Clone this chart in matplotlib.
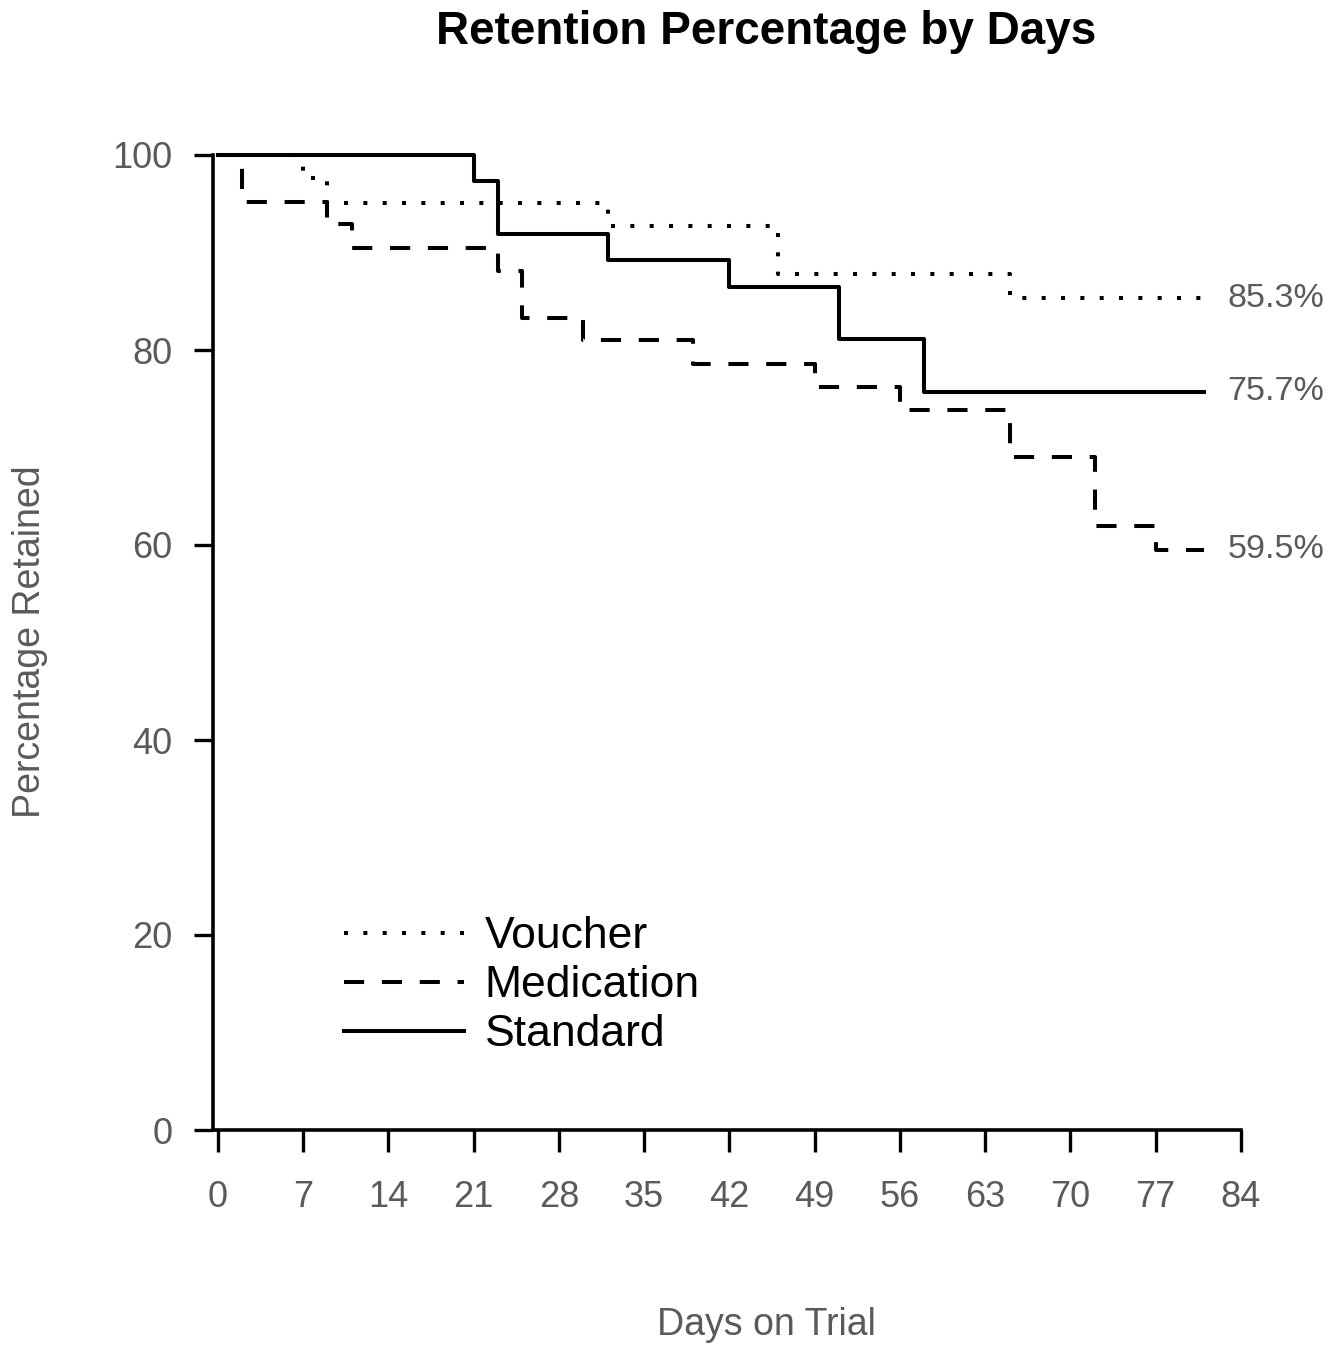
import matplotlib
matplotlib.use("Agg")
import matplotlib.pyplot as plt

# Kaplan-Meier style retention curves (days, percent retained)
voucher_days = [0, 7, 9, 32, 46, 65]
voucher_pct = [100, 97.6, 95.1, 92.7, 87.8, 85.3]

medication_days = [0, 2, 9, 11, 23, 25, 30, 39, 49, 56, 65, 72, 77]
medication_pct = [100, 95.2, 92.9, 90.5, 88.1, 83.3, 81.0, 78.6, 76.2, 73.8, 69.0, 61.9, 59.5]

standard_days = [0, 21, 23, 32, 42, 51, 58]
standard_pct = [100, 97.3, 91.9, 89.2, 86.5, 81.1, 75.7]

end_day = 81
end_labels = ["85.3%", "75.7%", "59.5%"]
x_ticks = list(range(0, 85, 7))
y_ticks = [0, 20, 40, 60, 80, 100]

plt.rcParams['font.family'] = ['Liberation Sans', 'DejaVu Sans']
gray = '#5a5a5a'

fig = plt.figure(figsize=(13.42, 13.47), dpi=100)
ax = fig.add_axes([213 / 1342, 1 - 1130 / 1347, (1241 - 213) / 1342, (1130 - 155) / 1347])

lw = 2.9
series = [
    (voucher_days, voucher_pct, "Voucher", (0, (1.0, 3.8))),
    (medication_days, medication_pct, "Medication", (0, (5.0, 4.4))),
    (standard_days, standard_pct, "Standard", "-"),
]
for days, pct, name, ls in series:
    ax.step(days + [end_day], pct + [pct[-1]], where="post", color="black",
            lw=lw, linestyle=ls, label=name, clip_on=False)

for (days, pct, name, ls), lab in zip(series, [end_labels[0], end_labels[2], end_labels[1]]):
    ax.text(82.9, pct[-1], lab, fontsize=24.5, color=gray, va="center", ha="left")

ax.set_xlim(-0.4, 84)
ax.set_ylim(0, 100)
ax.set_xticks(x_ticks)
ax.set_yticks(y_ticks)
for s in ["top", "right"]:
    ax.spines[s].set_visible(False)
for s in ["left", "bottom"]:
    ax.spines[s].set_linewidth(2.6)
ax.tick_params(axis="x", length=16, width=2.4, pad=20, labelsize=26, labelcolor=gray)
ax.tick_params(axis="y", length=14, width=2.4, pad=15, labelsize=26, labelcolor=gray)

leg = ax.legend(loc="upper left", bbox_to_anchor=(0.127, 0.219), frameon=False,
                fontsize=32, handlelength=2.7, handletextpad=0.47,
                labelspacing=0.18, borderpad=0, borderaxespad=0)
for h in leg.get_lines():
    h.set_linewidth(lw)

fig.text(766 / 1342, 1 - 32 / 1347, "Retention Percentage by Days", fontsize=33,
         fontweight="bold", ha="center", va="center")
fig.text(766 / 1342, 1 - 1325 / 1347, "Days on Trial", fontsize=27, color=gray,
         ha="center", va="center")
fig.text(30 / 1342, 1 - 642 / 1347, "Percentage Retained", fontsize=27, color=gray,
         ha="center", va="center", rotation=90)

fig.savefig("out.png", dpi=100)
